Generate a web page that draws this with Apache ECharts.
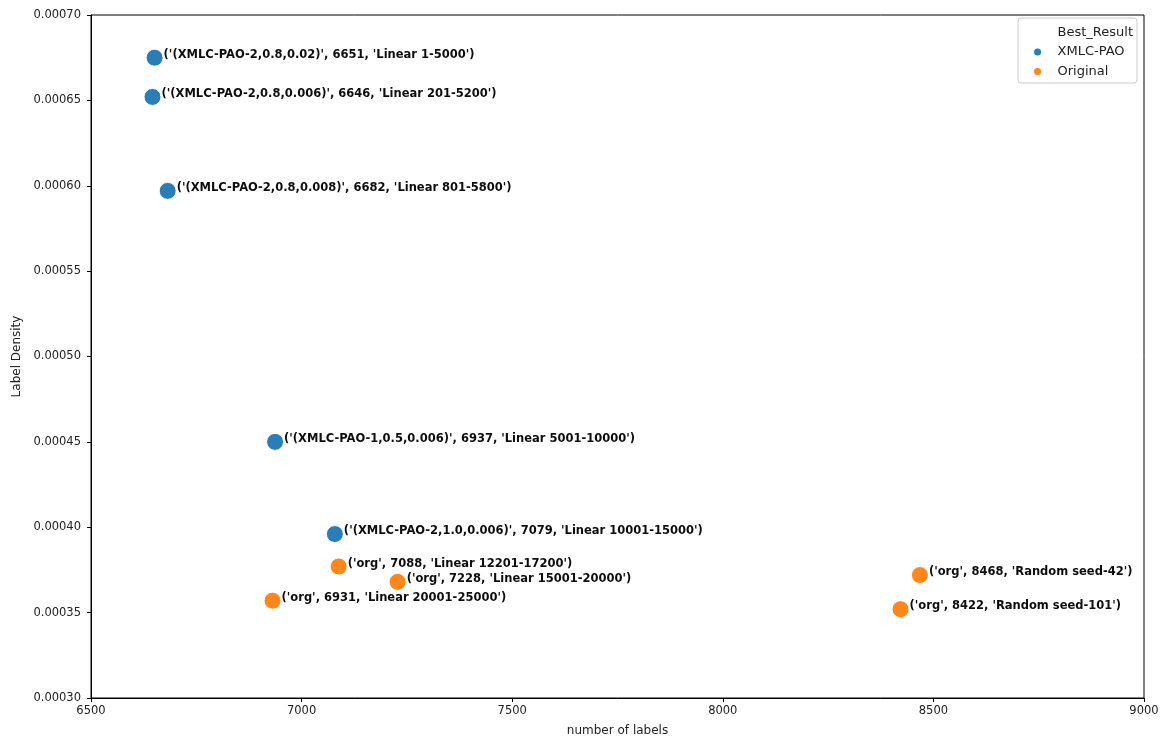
<!DOCTYPE html>
<html>
<head>
<meta charset="utf-8">
<script src="https://cdn.jsdelivr.net/npm/echarts@6/dist/echarts.min.js"></script>
<style>
  html, body { margin: 0; padding: 0; background: #fff; }
  #chart { width: 1170px; height: 738px; }
</style>
</head>
<body>
<div id="chart"></div>
<script>
// Number of labels per run and the resulting label density
const labelCounts = [6651, 6646, 6682, 6937, 7079, 7088, 7228, 6931, 8468, 8422];
const labelDensity = [0.000675, 0.000652, 0.000597, 0.000450, 0.000396, 0.000377, 0.000368, 0.000357, 0.000372, 0.000352];
const bestResult = ['XMLC-PAO', 'XMLC-PAO', 'XMLC-PAO', 'XMLC-PAO', 'XMLC-PAO',
                    'Original', 'Original', 'Original', 'Original', 'Original'];
const configs = ['(XMLC-PAO-2,0.8,0.02)', '(XMLC-PAO-2,0.8,0.006)', '(XMLC-PAO-2,0.8,0.008)',
                 '(XMLC-PAO-1,0.5,0.006)', '(XMLC-PAO-2,1.0,0.006)',
                 'org', 'org', 'org', 'org', 'org'];
const ranges = ['Linear 1-5000', 'Linear 201-5200', 'Linear 801-5800', 'Linear 5001-10000',
                'Linear 10001-15000', 'Linear 12201-17200', 'Linear 15001-20000',
                'Linear 20001-25000', 'Random seed-42', 'Random seed-101'];
const groups = ['XMLC-PAO', 'Original'];
const groupColors = ['#1f77b4', '#ff7f0e'];
const xTicks = [6500, 7000, 7500, 8000, 8500, 9000];
const yTicks = [0.00030, 0.00035, 0.00040, 0.00045, 0.00050, 0.00055, 0.00060, 0.00065, 0.00070];

const font = 'DejaVu Sans';

function pointsFor(group) {
  const out = [];
  for (let i = 0; i < labelCounts.length; i++) {
    if (bestResult[i] !== group) continue;
    out.push({
      value: [labelCounts[i], labelDensity[i]],
      tag: "('" + configs[i] + "', " + labelCounts[i] + ", '" + ranges[i] + "')"
    });
  }
  return out;
}

const chart = echarts.init(document.getElementById('chart'), null, { renderer: 'canvas' });

const scatterSeries = groups.map((g, k) => ({
  name: g,
  type: 'scatter',
  symbol: 'circle',
  symbolSize: 17,
  itemStyle: { color: groupColors[k], borderColor: '#ffffff', borderWidth: 1, opacity: 0.95 },
  label: {
    show: true,
    position: 'right',
    distance: 0,
    offset: [0, -3],
    formatter: p => p.data.tag,
    fontFamily: font,
    fontWeight: 'bold',
    fontSize: 11.5,
    color: '#000'
  },
  emphasis: { disabled: true },
  data: pointsFor(g)
}));

const axisCommon = {
  axisLine: { show: true, onZero: false, lineStyle: { color: '#000', width: 1 } },
  axisTick: { show: true, inside: false, length: 4, lineStyle: { color: '#000' } },
  splitLine: { show: false },
  axisLabel: { fontFamily: font, fontSize: 11.5, color: '#222' },
  nameTextStyle: { fontFamily: font, fontSize: 12, color: '#222' }
};

chart.setOption({
  animation: false,
  backgroundColor: '#fff',
  grid: {
    left: 91, right: 26, top: 15, bottom: 40,
    outerBoundsMode: 'none', containLabel: false,
    show: true, borderColor: '#000', borderWidth: 1, backgroundColor: 'transparent'
  },
  xAxis: Object.assign({}, axisCommon, {
    type: 'value',
    min: xTicks[0],
    max: xTicks[xTicks.length - 1],
    interval: 500,
    name: 'number of labels',
    nameLocation: 'middle',
    nameGap: 27,
    axisLabel: Object.assign({}, axisCommon.axisLabel, { margin: 7, formatter: v => String(v) })
  }),
  yAxis: Object.assign({}, axisCommon, {
    type: 'value',
    min: yTicks[0],
    max: yTicks[yTicks.length - 1],
    interval: 0.00005,
    name: 'Label Density',
    nameLocation: 'middle',
    nameGap: 68,
    axisLabel: Object.assign({}, axisCommon.axisLabel, { margin: 10, formatter: v => v.toFixed(5) })
  }),
  legend: {
    right: 33,
    top: 18,
    orient: 'vertical',
    backgroundColor: '#fff',
    borderColor: '#ccc',
    borderWidth: 1,
    borderRadius: 3,
    padding: [8, 4, 5, 14],
    itemWidth: 10,
    itemHeight: 9,
    itemGap: 6.5,
    icon: 'circle',
    textStyle: { fontFamily: font, fontSize: 13, color: '#222', padding: [0, 0, 0, 10] },
    data: [
      { name: 'Best_Result', itemStyle: { opacity: 0 } },
      { name: 'XMLC-PAO' },
      { name: 'Original' }
    ],
    selectedMode: false
  },
  series: [
    { name: 'Best_Result', type: 'scatter', data: [], itemStyle: { color: 'rgba(0,0,0,0)' } }
  ].concat(scatterSeries)
});
</script>
</body>
</html>
